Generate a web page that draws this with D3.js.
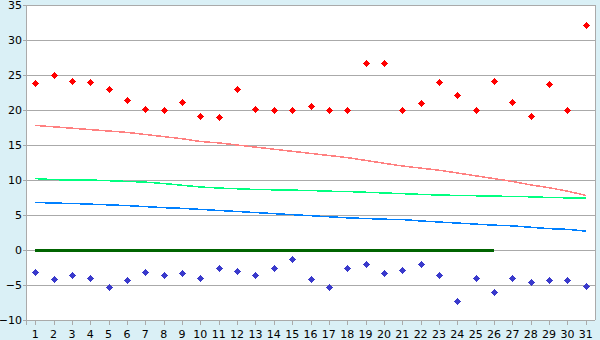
<!DOCTYPE html>
<html><head><meta charset="utf-8">
<script src="https://cdn.jsdelivr.net/npm/d3@7"></script>
<style>
html,body{margin:0;padding:0;background:#daf0f6;}
svg{display:block;font-family:"DejaVu Sans",Verdana,sans-serif;}
</style></head>
<body><svg id="c" width="600" height="340"></svg>
<script>
const days = d3.range(1, 32);
const yTicks = [-10, -5, 0, 5, 10, 15, 20, 25, 30, 35];
const maxTemp = [23.8,25.0,24.2,24.0,23.0,21.4,20.2,20.0,21.1,19.1,19.0,23.0,20.2,20.0,20.0,20.5,20.0,20.0,26.7,26.7,20.0,21.0,24.0,22.2,20.0,24.2,21.2,19.1,23.7,20.0,32.2];
const minTemp = [-3.2,-4.2,-3.6,-4.0,-5.3,-4.3,-3.2,-3.6,-3.3,-4.0,-2.6,-3.0,-3.5,-2.6,-1.3,-4.2,-5.3,-2.6,-2.0,-3.3,-2.8,-2.0,-3.6,-7.3,-4.0,-6.0,-4.0,-4.6,-4.3,-4.3,-5.2];
const normalMax = [17.8,17.6,17.4,17.2,17.0,16.8,16.5,16.2,15.9,15.5,15.3,15.0,14.7,14.4,14.1,13.8,13.5,13.2,12.8,12.4,12.0,11.7,11.4,11.0,10.6,10.2,9.8,9.3,8.9,8.4,7.8];
const normalMean = [10.2,10.05,10.0,10.0,9.9,9.8,9.7,9.5,9.25,9.0,8.85,8.75,8.65,8.6,8.55,8.5,8.4,8.35,8.25,8.15,8.05,7.95,7.85,7.8,7.75,7.7,7.65,7.6,7.5,7.45,7.4];
const normalMin = [6.8,6.7,6.65,6.55,6.45,6.35,6.2,6.05,5.95,5.8,5.65,5.5,5.35,5.2,5.05,4.9,4.75,4.6,4.5,4.4,4.35,4.15,4.0,3.85,3.7,3.55,3.45,3.25,3.05,2.95,2.7];
const zeroDays = d3.range(1, 27);
const zeroVals = zeroDays.map(() => 0);

const L = 26, R = 595, T = 5, B = 320;
const svg = d3.select("#c");
const x = d3.scaleBand().domain(days).range([L, R]);
const y = d3.scaleLinear().domain([-10, 35]).range([B, T]);
const cx = d => x(d) + x.bandwidth() / 2;

svg.append("rect").attr("x", L).attr("y", T).attr("width", R - L).attr("height", B - T).attr("fill", "#fff");

// grid
svg.append("g").selectAll("line").data(yTicks).join("line")
  .attr("x1", L - 3).attr("x2", R).attr("y1", d => Math.round(y(d)) + 0.5).attr("y2", d => Math.round(y(d)) + 0.5)
  .attr("stroke", "#aaa").attr("stroke-width", 1);
svg.append("line").attr("x1", R + 0.5).attr("x2", R + 0.5).attr("y1", T).attr("y2", B).attr("stroke", "#aaa");
svg.append("line").attr("x1", L + 0.5).attr("x2", L + 0.5).attr("y1", T).attr("y2", B + 5).attr("stroke", "#aaa");

// y labels
svg.append("g").selectAll("text").data(yTicks).join("text")
  .attr("x", 22).attr("y", d => y(d)).attr("dy", "0.36em").attr("text-anchor", "end")
  .attr("font-size", 11).attr("fill", "#000").text(d => d3.format("d")(d));

// x axis ticks & labels
svg.append("g").selectAll("line").data(days).join("line")
  .attr("x1", d => Math.round(cx(d)) + 0.5).attr("x2", d => Math.round(cx(d)) + 0.5)
  .attr("y1", B).attr("y2", B + 5).attr("stroke", "#aaa");
svg.append("g").selectAll("text").data(days).join("text")
  .attr("x", d => cx(d)).attr("y", 338).attr("text-anchor", "middle")
  .attr("font-size", 11).attr("fill", "#000").text(d => d);

// lines
const line = d3.line().x((v, i) => cx(days[i])).y(v => y(v));
[[normalMax, "#ff8080"], [normalMean, "#00ff80"], [normalMin, "#0080ff"]].forEach(([arr, col]) => {
  svg.append("path").datum(arr).attr("d", line).attr("fill", "none")
    .attr("stroke", col).attr("stroke-width", 1.5).attr("shape-rendering", "crispEdges");
});
const zline = d3.line().x((v, i) => cx(zeroDays[i])).y(v => y(v));
svg.append("path").datum(zeroVals).attr("d", zline).attr("fill", "none")
  .attr("stroke", "#006400").attr("stroke-width", 3).attr("shape-rendering", "crispEdges");

// markers (small diamonds)
const diamond = "M0,-3.5L3.5,0L0,3.5L-3.5,0Z";
svg.append("g").selectAll("path").data(maxTemp).join("path")
  .attr("transform", (v, i) => `translate(${Math.round(cx(days[i]))+0.5},${Math.round(y(v))+0.5})`)
  .attr("d", diamond).attr("fill", "#ff0000").attr("shape-rendering", "crispEdges");
svg.append("g").selectAll("path").data(minTemp).join("path")
  .attr("transform", (v, i) => `translate(${Math.round(cx(days[i]))+0.5},${Math.round(y(v))+0.5})`)
  .attr("d", diamond).attr("fill", "#3a3acc").attr("shape-rendering", "crispEdges");
</script></body></html>
